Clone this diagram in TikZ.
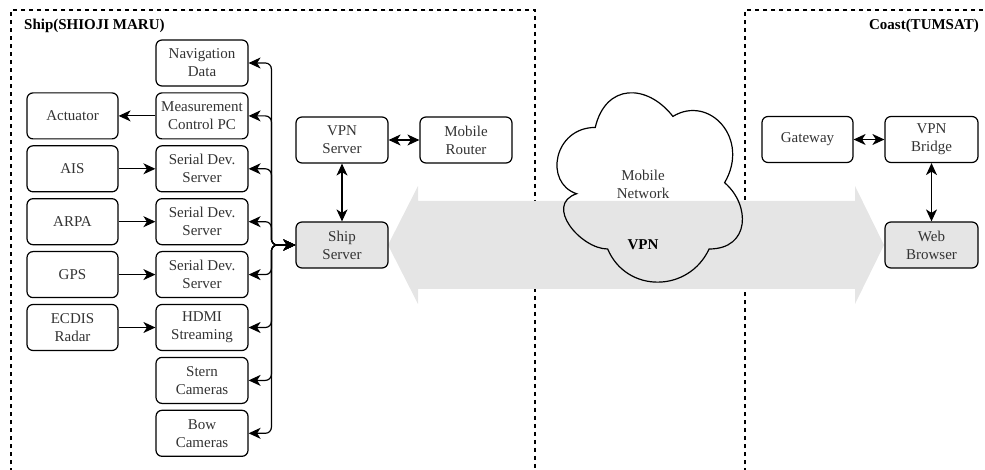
\documentclass[tikz,border=0pt]{standalone}
\usepackage{fontspec}
\setmainfont{Liberation Serif}
\usetikzlibrary{arrows.meta}
\newcommand\bxf{\fontsize{15}{18}\selectfont}
\tikzset{
  blk/.style={draw, rounded corners=6pt, line width=1.2pt, minimum width=92pt, minimum height=46pt,
    inner sep=0pt, align=center, text=black!80, font=\bxf},
  graybox/.style={blk, fill=black!10},
  tip/.tip={Stealth[length=12pt,width=11pt,inset=3.5pt]},
  conn/.style={line width=1.2pt, -tip},
  dconn/.style={line width=1.2pt, tip-tip},
  region/.style={line width=1.1pt, dash pattern=on 4pt off 4pt},
}
\begin{document}
\begin{tikzpicture}[x=1pt,y=-1pt]
\useasboundingbox (0,0) rectangle (985,470);
% regions
\draw[region] (11,480) -- (11,10) -- (535,10) -- (535,480);
\draw[region] (745,480) -- (745,10) -- (995,10);
\node[anchor=west, font=\bfseries\bxf, inner sep=0pt] (shiptitle) at (24,26) {Ship(SHIOJI MARU)};
\node[anchor=east, font=\bfseries\bxf, inner sep=0pt] (coasttitle) at (979,26) {Coast(TUMSAT)};
% big double arrow
\fill[black!10] (388,245) -- (418,186) -- (418,201) -- (855,201) -- (855,186) -- (884,245)
  -- (855,304) -- (855,289) -- (418,289) -- (418,304) -- cycle;
% cloud
\draw[line width=1.2pt] (595.25,127.45) .. controls (553.85,127.45) and (543.5,182.7) .. (576.62,193.75)
  .. controls (543.5,204.8) and (580.76,249.0) .. (607.67,249.0)
  .. controls (626.3,293.2) and (688.4,293.2) .. (709.1,249.0)
  .. controls (750.5,249.0) and (750.5,204.8) .. (724.6,182.7)
  .. controls (750.5,138.5) and (709.1,94.3) .. (672.9,116.4)
  .. controls (647,83.25) and (605.6,83.25) .. (595.25,127.45) -- cycle;
\node[align=center, font=\bxf, text=black!80] (mobnet) at (643,184) {Mobile\\Network};
\node[font=\bfseries\bxf] (vpnlbl) at (643,245) {VPN};
% left column
\node[blk, minimum width=91pt] (act) at (72.5,115.9) {Actuator};
\node[blk, minimum width=91pt] (ais) at (72.5,168.8) {AIS};
\node[blk, minimum width=91pt] (arpa) at (72.5,221.7) {ARPA};
\node[blk, minimum width=91pt] (gps) at (72.5,274.6) {GPS};
\node[blk, minimum width=91pt] (ecdis) at (72.5,327.5) {ECDIS\\Radar};
% middle column
\node[blk] (nav) at (202,63) {Navigation\\Data};
\node[blk] (mcpc) at (202,115.9) {Measurement\\Control PC};
\node[blk] (sds1) at (202,168.8) {Serial Dev.\\Server};
\node[blk] (sds2) at (202,221.7) {Serial Dev.\\Server};
\node[blk] (sds3) at (202,274.6) {Serial Dev.\\Server};
\node[blk] (hdmi) at (202,327.5) {HDMI\\Streaming};
\node[blk] (stern) at (202,380.4) {Stern\\Cameras};
\node[blk] (bow) at (202,433.3) {Bow\\Cameras};
% servers
\node[blk] (vpns) at (342,140) {VPN\\Server};
\node[blk] (mrouter) at (466,140) {Mobile\\Router};
\node[graybox] (ship) at (342,245) {Ship\\Server};
% coast
\node[blk, minimum width=91pt] (gw) at (807.5,139.5) {Gateway};
\node[blk, minimum width=93pt] (vpnb) at (931.5,139.5) {VPN\\Bridge};
\node[graybox, minimum width=93pt] (web) at (931.5,245) {Web\\Browser};
% connectors
\draw[conn] (mcpc) -- (act);
\draw[conn] (ais) -- (sds1);
\draw[conn] (arpa) -- (sds2);
\draw[conn] (gps) -- (sds3);
\draw[conn] (ecdis) -- (hdmi);
\foreach \t in {nav,mcpc,sds1,sds2,sds3,hdmi,stern,bow}{
  \draw[dconn, rounded corners=6pt] (ship.west) -- ++(-24,0) |- (\t.east);
}
\draw[dconn] (vpns) -- (mrouter);
\draw[dconn] (vpns) -- (ship);
\draw[dconn] (gw) -- (vpnb);
\draw[dconn] (vpnb) -- (web);
\end{tikzpicture}
\end{document}
